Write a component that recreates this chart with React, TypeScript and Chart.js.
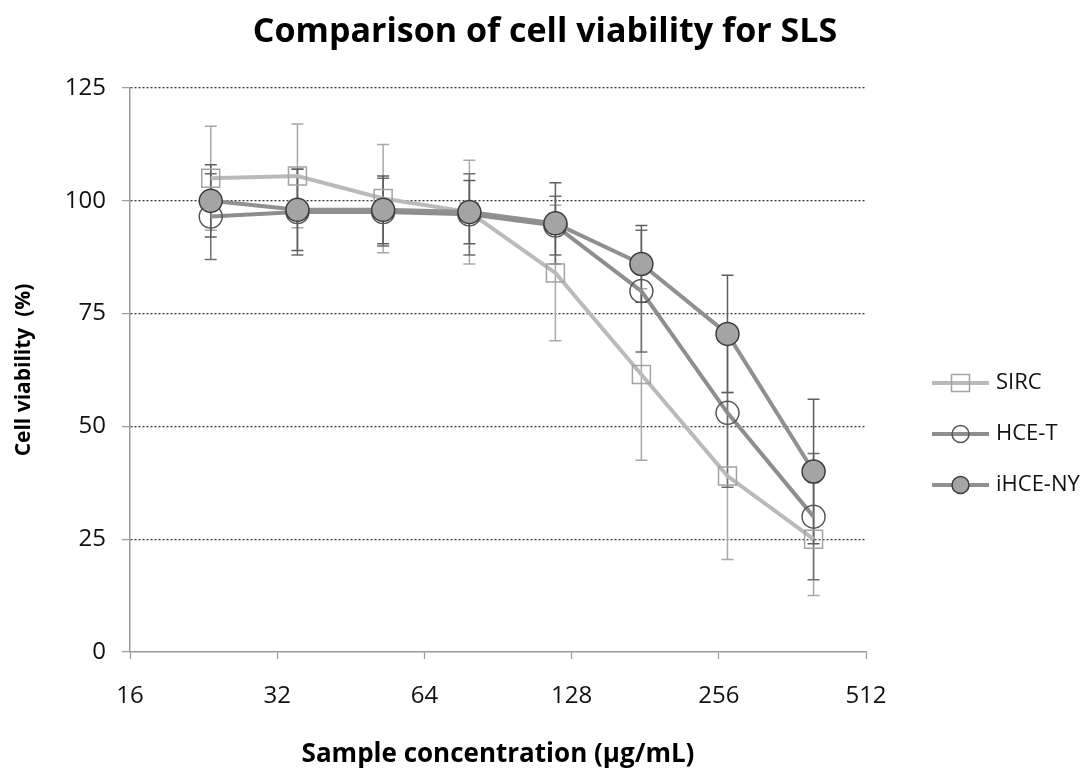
import React, { useEffect, useRef } from "react";
import { Chart, registerables } from "chart.js";

Chart.register(...registerables);

// Sample concentrations (µg/mL), 1.5-fold dilution series
const concentrations = [23.4, 35.2, 52.7, 79.1, 118.6, 177.8, 266.7, 400];

// Mean cell viability (%) per cell line
const sircViability = [105, 105.5, 100.5, 97.5, 84, 61.5, 39, 25];
const hcetViability = [96.5, 97.5, 97.5, 97, 94.5, 80, 53, 30];
const ihceViability = [100, 98, 98, 97.5, 95, 86, 70.5, 40];

// Standard deviations (%)
const sircError = [11.5, 11.5, 12, 11.5, 15, 19, 18.5, 12.5];
const hcetError = [9.5, 9.5, 7.5, 9, 6.5, 13.5, 16.5, 14];
const ihceError = [8, 9, 7.5, 7, 9, 8.5, 13, 16];

const seriesNames = ["SIRC", "HCE-T", "iHCE-NY"];
const xTickValues = [16, 32, 64, 128, 256, 512];
const yTickValues = [0, 25, 50, 75, 100, 125];

const FONT = "'Open Sans', Lato, sans-serif";

type SeriesStyle = {
  line: string;
  pointStyle: "rect" | "circle";
  fill: string;
  border: string;
  errColor: string;
  radius: number;
};

const styles: SeriesStyle[] = [
  { line: "#bababa", pointStyle: "rect", fill: "rgba(255,255,255,0)", border: "#a3a3a3", errColor: "#a8a8a8", radius: 12.7 },
  { line: "#8e8e8e", pointStyle: "circle", fill: "rgba(255,255,255,0)", border: "#555555", errColor: "#6e6e6e", radius: 11.5 },
  { line: "#909090", pointStyle: "circle", fill: "#a4a4a4", border: "#3c3c3c", errColor: "#5e5e5e", radius: 11.5 },
];

const viabilities = [sircViability, hcetViability, ihceViability];
const errors = [sircError, hcetError, ihceError];

const errorBarPlugin = {
  id: "errorBars",
  beforeDatasetsDraw(chart: any) {
    const { ctx } = chart;
    const xs = chart.scales.x;
    const ys = chart.scales.y;
    ctx.save();
    viabilities.forEach((vals, si) => {
      ctx.strokeStyle = styles[si].errColor;
      ctx.lineWidth = 1.5;
      vals.forEach((v, i) => {
        const px = xs.getPixelForValue(concentrations[i]);
        const hi = ys.getPixelForValue(v + errors[si][i]);
        const lo = ys.getPixelForValue(v - errors[si][i]);
        ctx.beginPath();
        ctx.moveTo(px, hi);
        ctx.lineTo(px, lo);
        ctx.moveTo(px - 6, hi);
        ctx.lineTo(px + 6, hi);
        ctx.moveTo(px - 6, lo);
        ctx.lineTo(px + 6, lo);
        ctx.stroke();
      });
    });
    ctx.restore();
  },
};

// Legend drawn in the empty band to the right of the plot
const legendPlugin = {
  id: "sideLegend",
  afterDraw(chart: any) {
    const { ctx } = chart;
    const x0 = 932;
    const x1 = 989;
    const mx = (x0 + x1) / 2;
    const yStart = 383;
    const gap = 51;
    ctx.save();
    seriesNames.forEach((name, i) => {
      const st = styles[i];
      const y = yStart + gap * i;
      ctx.strokeStyle = st.line;
      ctx.lineWidth = 4;
      ctx.beginPath();
      ctx.moveTo(x0, y);
      ctx.lineTo(x1, y);
      ctx.stroke();
      ctx.lineWidth = 1.5;
      ctx.strokeStyle = st.border;
      ctx.fillStyle = st.fill;
      ctx.beginPath();
      if (st.pointStyle === "rect") {
        ctx.rect(mx - 9, y - 8.5, 18, 17);
      } else {
        ctx.arc(mx, y, 8.5, 0, Math.PI * 2);
      }
      ctx.fill();
      ctx.stroke();
      ctx.fillStyle = "#111";
      ctx.font = `22px ${FONT}`;
      ctx.textBaseline = "middle";
      ctx.textAlign = "left";
      ctx.fillText(name, 996, y);
    });
    ctx.restore();
  },
};

export default function App() {
  const canvasRef = useRef<HTMLCanvasElement | null>(null);

  useEffect(() => {
    if (!canvasRef.current) return;
    const chart = new Chart(canvasRef.current, {
      type: "line",
      data: {
        datasets: seriesNames.map((name, si) => ({
          label: name,
          data: concentrations.map((c, i) => ({ x: c, y: viabilities[si][i] })),
          borderColor: styles[si].line,
          borderWidth: 4,
          pointStyle: styles[si].pointStyle,
          pointRadius: styles[si].radius,
          pointHoverRadius: styles[si].radius,
          pointBackgroundColor: styles[si].fill,
          pointBorderColor: styles[si].border,
          pointBorderWidth: 1.5,
          tension: 0,
          fill: false,
          order: 2 - si,
        })),
      },
      options: {
        animation: false,
        responsive: false,
        maintainAspectRatio: false,
        layout: { padding: 0 },
        plugins: {
          legend: { display: false },
          tooltip: { enabled: false },
          title: {
            display: true,
            text: "Comparison of cell viability for SLS",
            color: "#000",
            font: { family: FONT, size: 34, weight: "bold" },
            padding: { top: 12, bottom: 35.2 },
          },
        },
        scales: {
          x: {
            type: "logarithmic",
            min: 16,
            max: 512,
            afterBuildTicks: (scale: any) => {
              scale.ticks = xTickValues.map((v) => ({ value: v }));
            },
            afterFit: (scale: any) => {
              scale.height = 118;
            },
            ticks: {
              autoSkip: false,
              maxRotation: 0,
              padding: 23,
              color: "#111",
              font: { family: FONT, size: 24 },
              callback: (v: any) => String(v),
            },
            grid: {
              drawOnChartArea: false,
              drawTicks: true,
              tickLength: 7,
              tickColor: "#999",
              tickWidth: 1.2,
            },
            border: { display: true, color: "#9a9a9a", width: 1.5 },
            title: {
              display: true,
              text: "Sample concentration (µg/mL)",
              color: "#000",
              font: { family: FONT, size: 26, weight: "bold" },
              padding: { top: 0, bottom: 0 },
            },
          },
          y: {
            min: 0,
            max: 125,
            afterBuildTicks: (scale: any) => {
              scale.ticks = yTickValues.map((v) => ({ value: v }));
            },
            afterFit: (scale: any) => {
              scale.width = 130;
            },
            ticks: {
              padding: 16,
              color: "#111",
              font: { family: FONT, size: 24 },
            },
            grid: {
              drawOnChartArea: true,
              drawTicks: true,
              tickLength: 8,
              tickColor: "#999",
              tickWidth: 1.2,
              lineWidth: 1.3,
              color: (c: any) => (c.tick && c.tick.value === 0 ? "rgba(0,0,0,0)" : "#3a3a3a"),
            },
            border: { display: true, color: "#9a9a9a", width: 1.5, dash: [2, 2] },
            title: {
              display: true,
              text: "Cell viability  (%)",
              color: "#000",
              font: { family: FONT, size: 21, weight: "bold" },
              padding: { top: 11, bottom: 0 },
            },
          },
          // empty right-hand axis that reserves the legend band
          legendBand: {
            type: "linear",
            position: "right",
            display: true,
            afterFit: (scale: any) => {
              scale.width = 224;
            },
            ticks: { display: false },
            grid: { display: false, drawOnChartArea: false },
            border: { display: false },
          },
        },
      },
      plugins: [errorBarPlugin, legendPlugin],
    });
    return () => chart.destroy();
  }, []);

  return (
    <div style={{ position: "fixed", left: 0, top: 0, width: 1090, height: 770, background: "#fff" }}>
      <canvas ref={canvasRef} width={1090} height={770} style={{ display: "block" }} />
    </div>
  );
}
